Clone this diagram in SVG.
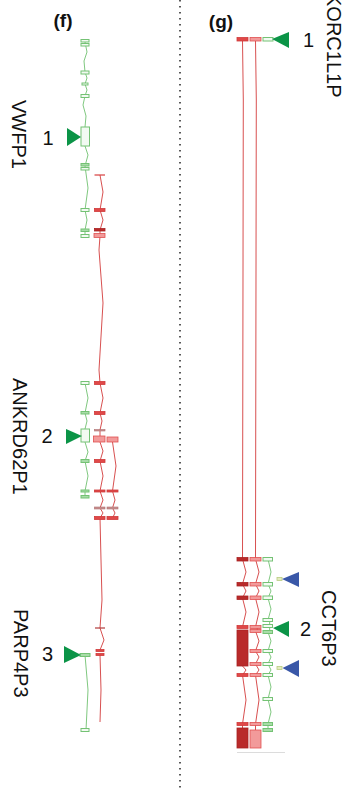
<svg xmlns="http://www.w3.org/2000/svg" width="360" height="791" viewBox="0 0 360 791">
<defs>
<style>
.gx{fill:#f2faf2;stroke:#74c274;stroke-width:1}
.gxf{fill:#a8dca8;stroke:#74c274;stroke-width:1}
.gl{fill:none;stroke:#80c880;stroke-width:1}
.rx{fill:#e04848;stroke:#d03a3a;stroke-width:0.8}
.dx{fill:#b92a2a;stroke:#a82222;stroke-width:0.8}
.px{fill:#f29a9a;stroke:#e05050;stroke-width:0.8}
.gy{fill:#c89090;stroke:#b07070;stroke-width:0.6}
.rl{fill:none;stroke:#d85050;stroke-width:1}
.tg{fill:#0b9447}
.tb{fill:#3a58a8}
.sm{fill:#e4ecc0;stroke:#b8cc80;stroke-width:0.8}
.lb{font-family:"Liberation Sans",Arial,sans-serif;font-size:20px;fill:#111}
.pl{font-family:"Liberation Sans",Arial,sans-serif;font-size:19px;font-weight:bold;fill:#111;text-anchor:middle}
</style>
</defs>

<g id="connectors">
<line x1="180" y1="0" x2="180" y2="791" stroke="#222" stroke-width="1.5" stroke-dasharray="1.5,4.5"/>
<!-- panel f green -->
<polyline class="gl" points="85,42 87,52 84,61 85,72 87,78 85,84 87,90 85,96 83,105 86,116 85,127"/>
<polyline class="gl" points="85,146 88,155 85,166 88,188 85,210 87,220 85,230 85,236"/>
<polyline class="gl" points="85,383 88,398 85,413 87,421 85,429"/>
<polyline class="gl" points="85,442 88,452 85,461 88,476 85,491 85,497"/>
<polyline class="gl" points="85,655 88,690 86,730"/>
<!-- panel f red -->
<polyline class="rl" points="100,175 103,192 100,210 103,220 100,230 100,236 99,250 103,303 99,370 100,383 103,398 100,413 102,421 100,430 100,436"/>
<polyline class="rl" points="100,442 103,451 100,461 103,476 100,491 103,500 100,508 103,513 100,518 101,560 102,600 100,628 104,640 100,650"/>
<polyline class="rl" points="100,655 101,690 100,722"/>
<polyline class="rl" points="112.5,442 116,466 112.5,491 115,500 112.5,508 115,513 112.5,518"/>
<!-- panel g red -->
<polyline class="rl" points="242.5,41 243.3,100 242.5,559 246,572 242.5,584 246,591 242.5,598 246,612 242.5,627"/>
<polyline class="rl" points="242.5,666 246,670 242.5,675 246,700 242.5,724 242.5,728"/>
<polyline class="rl" points="255.5,41 256.3,100 255.5,559 259,572 255.5,584 259,591 255.5,598 259,612 255.5,627 258,629 255.5,631 259,641 255.5,651 259,657 255.5,664 259,670 255.5,675 259,700 255.5,724 255.5,730"/>
<!-- panel g green -->
<polyline class="gl" points="268,559 271,572 268,584 271,591 268,598 271,609 268,620 270,623 268,626 270,629 268,632 271,641 268,651 271,657 268,664 271,670 268,675 271,687 268,699 271,712 268,724 268,730"/>
<line x1="237" y1="752.5" x2="285" y2="752.5" stroke="#dcdcdc" stroke-width="1"/>
</g>

<g id="panel-labels">
<text class="pl" x="63" y="27">(f)</text>
<text class="pl" x="221" y="28">(g)</text>
</g>

<g id="VWFP1">
<g fill="none">
<rect class="gx" x="81" y="39.5" width="8" height="2.5"/>
<rect class="gx" x="81" y="43.5" width="8" height="2.5"/>
<rect class="gx" x="81" y="71" width="8" height="3"/>
<rect class="gx" x="82" y="83" width="6" height="2"/>
<rect class="gx" x="81" y="94.5" width="8" height="3"/>
<rect class="gx" x="81" y="127" width="8.5" height="19"/>
<rect class="gxf" x="81" y="163.5" width="8" height="2.5"/>
<rect class="gx" x="81" y="167.5" width="8" height="2.5"/>
<rect class="gx" x="81" y="208.5" width="8" height="3"/>
<rect class="gxf" x="81" y="229" width="8" height="2.5"/>
<rect class="gx" x="81" y="234.5" width="8" height="3"/>
</g>
<line x1="94.5" y1="175" x2="105" y2="175" stroke="#d84040" stroke-width="1.2"/>
<rect class="rx" x="94.5" y="208.5" width="10.5" height="3"/>
<rect class="dx" x="94.5" y="228.5" width="10.5" height="2.5"/>
<rect class="px" x="94" y="233.5" width="11" height="4"/>
<polygon class="tg" points="67,128 67,146 81,137"/>
<text class="lb" x="48" y="145" text-anchor="middle">1</text>
<text class="lb" transform="translate(12,100) rotate(90)">VWFP1</text>
</g>

<g id="ANKRD62P1">
<rect class="gx" x="81" y="381.5" width="8" height="3"/>
<rect class="gxf" x="81" y="411.5" width="8" height="2.5"/>
<rect class="gx" x="81" y="429" width="8.5" height="13"/>
<rect class="gxf" x="81" y="459.5" width="8" height="3"/>
<rect class="gxf" x="81" y="490" width="8" height="2"/>
<rect class="gxf" x="81" y="495.5" width="8" height="2.5"/>
<rect class="rx" x="94.5" y="381.5" width="10.5" height="3"/>
<rect class="rx" x="94.5" y="411.5" width="10.5" height="3"/>
<rect class="gy" x="94.5" y="429.5" width="10.5" height="1.5"/>
<rect class="px" x="93.5" y="436" width="11.5" height="6"/>
<rect class="rx" x="94.5" y="459.5" width="10.5" height="3"/>
<rect class="rx" x="94.5" y="490" width="10.5" height="2"/>
<rect class="gy" x="94.5" y="507" width="10.5" height="2"/>
<rect class="rx" x="94.5" y="516.5" width="10.5" height="3"/>
<rect class="px" x="107" y="437" width="11" height="5"/>
<rect class="rx" x="107" y="490" width="11" height="2"/>
<rect class="gy" x="107" y="507" width="11" height="2"/>
<rect class="rx" x="107" y="516.5" width="11" height="3"/>
<polygon class="tg" points="66,429 66,444 82,436"/>
<text class="lb" x="47" y="443" text-anchor="middle">2</text>
<text class="lb" transform="translate(13,378) rotate(90)">ANKRD62P1</text>
</g>

<g id="PARP4P3">
<line x1="95" y1="628" x2="105" y2="628" stroke="#b03a3a" stroke-width="1.2"/>
<rect class="rx" x="96" y="649.5" width="8" height="2"/>
<rect class="rx" x="96" y="653.5" width="8" height="2"/>
<rect class="gxf" x="80" y="653.5" width="10" height="3"/>
<rect class="gx" x="81" y="728.5" width="8" height="3"/>
<polygon class="tg" points="64,646 64,663 81,655"/>
<text class="lb" x="47.5" y="661" text-anchor="middle">3</text>
<text class="lb" transform="translate(14,609) rotate(90)">PARP4P3</text>
</g>

<g id="KORC1L1P">
<rect class="rx" x="237" y="37.5" width="11" height="3.5"/>
<rect class="px" x="250" y="37.5" width="11" height="3.5"/>
<rect class="gx" x="263" y="37.5" width="10" height="3.5"/>
<polygon class="tg" points="272,39 289,32 289,48"/>
<text class="lb" x="308.5" y="47" text-anchor="middle">1</text>
<text class="lb" transform="translate(327,-7) rotate(90)">KORC1L1P</text>
</g>

<g id="CCT6P3">
<rect class="dx" x="237" y="557.5" width="11" height="3.5"/>
<rect class="dx" x="237" y="582.5" width="11" height="3.5"/>
<rect class="dx" x="237" y="596" width="11" height="3.5"/>
<rect class="rx" x="237" y="625.5" width="11" height="3"/>
<rect class="dx" x="237" y="630" width="11" height="36"/>
<rect class="rx" x="237" y="673.5" width="11" height="3"/>
<rect class="rx" x="237" y="722.5" width="11" height="3"/>
<rect class="dx" x="237" y="728" width="11" height="20"/>
<rect class="px" x="250" y="557.5" width="11" height="3.5"/>
<rect class="px" x="250" y="582.5" width="11" height="3.5"/>
<rect class="px" x="250" y="596" width="11" height="3.5"/>
<rect class="px" x="250" y="625.5" width="11" height="3"/>
<rect class="px" x="250" y="629.5" width="11" height="3"/>
<rect class="px" x="250" y="649.5" width="11" height="3"/>
<rect class="px" x="250" y="662.5" width="11" height="3"/>
<rect class="px" x="250" y="673.5" width="11" height="3"/>
<rect class="px" x="250" y="722.5" width="11" height="3"/>
<rect class="px" x="250" y="730" width="11" height="18"/>
<rect class="gx" x="263" y="557.5" width="9.5" height="3.5"/>
<rect class="gx" x="263" y="582.5" width="9.5" height="3.5"/>
<rect class="gx" x="263" y="596" width="9.5" height="3.5"/>
<rect class="gx" x="263" y="618.5" width="9.5" height="3"/>
<rect class="gx" x="263" y="624.5" width="9.5" height="3"/>
<rect class="gxf" x="263" y="630.5" width="9.5" height="3"/>
<rect class="gx" x="263" y="649.5" width="9.5" height="3"/>
<rect class="gx" x="263" y="662.5" width="9.5" height="3"/>
<rect class="gx" x="263" y="673.5" width="9.5" height="3"/>
<rect class="gx" x="263" y="697.5" width="9.5" height="3"/>
<rect class="gxf" x="263" y="722.5" width="9.5" height="3"/>
<rect class="gxf" x="263" y="728.5" width="9.5" height="3"/>
<rect class="sm" x="277" y="577.5" width="5" height="3"/>
<polygon class="tb" points="282,579 299,572 299,587"/>
<rect class="sm" x="277" y="666.5" width="5" height="3"/>
<polygon class="tb" points="282.5,668 299,660 299,677"/>
<polygon class="tg" points="273,628 289,621 289,637"/>
<text class="lb" x="305.5" y="636" text-anchor="middle">2</text>
<text class="lb" transform="translate(322,590) rotate(90)">CCT6P3</text>
</g>
</svg>
